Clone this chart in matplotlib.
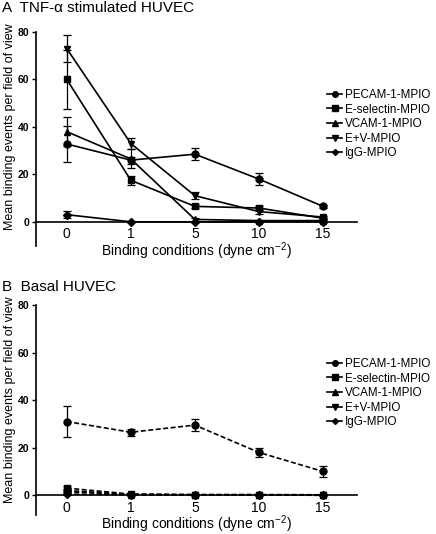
import numpy as np
import matplotlib
matplotlib.use('Agg')
import matplotlib.pyplot as plt
from matplotlib.lines import Line2D

plt.rcParams['font.family'] = ['Liberation Sans', 'DejaVu Sans']
plt.rcParams['mathtext.fontset'] = 'custom'
plt.rcParams['mathtext.rm'] = 'Liberation Sans'
plt.rcParams['mathtext.default'] = 'regular'

conditions = ['0', '1', '5', '10', '15']
series = ['PECAM-1-MPIO', 'E-selectin-MPIO', 'VCAM-1-MPIO', 'E+V-MPIO', 'IgG-MPIO']
markers = ['o', 's', '^', 'v', 'D']

# TNF-alpha stimulated HUVEC
tnf_pecam = [32.8, 26.0, 28.5, 18.0, 6.5]
tnf_pecam_err = [7.5, 1.5, 2.5, 2.5, 0.5]
tnf_esel = [60.0, 17.5, 6.5, 5.8, 1.5]
tnf_esel_err = [12.5, 2.0, 0.8, 1.0, 0.3]
tnf_vcam = [38.0, 26.5, 1.0, 0.5, 0.5]
tnf_vcam_err = [6.0, 4.0, 0.5, 0.3, 0.2]
tnf_ev = [73.0, 33.0, 11.0, 4.3, 2.0]
tnf_ev_err = [5.7, 2.5, 1.5, 1.0, 0.4]
tnf_igg = [3.0, 0.0, 0.0, 0.0, 0.0]
tnf_igg_err = [1.5, 0.2, 0.1, 0.1, 0.1]

# Basal HUVEC
bas_pecam = [31.0, 26.5, 29.5, 18.0, 10.0]
bas_pecam_err = [6.5, 1.5, 2.5, 2.0, 2.5]
bas_esel = [3.0, 0.5, 0.3, 0.3, 0.2]
bas_esel_err = [0.8, 0.2, 0.1, 0.1, 0.1]
bas_vcam = [2.0, 0.3, 0.2, 0.2, 0.0]
bas_vcam_err = [0.5, 0.1, 0.1, 0.1, 0.0]
bas_ev = [1.5, 0.3, 0.2, 0.1, 0.1]
bas_ev_err = [0.4, 0.1, 0.1, 0.1, 0.0]
bas_igg = [0.5, 0.2, 0.1, 0.1, 0.0]
bas_igg_err = [0.2, 0.1, 0.0, 0.0, 0.0]

tnf = [(tnf_pecam, tnf_pecam_err), (tnf_esel, tnf_esel_err), (tnf_vcam, tnf_vcam_err),
       (tnf_ev, tnf_ev_err), (tnf_igg, tnf_igg_err)]
bas = [(bas_pecam, bas_pecam_err), (bas_esel, bas_esel_err), (bas_vcam, bas_vcam_err),
       (bas_ev, bas_ev_err), (bas_igg, bas_igg_err)]

fig = plt.figure(figsize=(4.36, 5.34), dpi=100)
W, H = 436, 534


def panel(rect_px, data, ls, ymin, title, title_y, legend_top):
    left, top, right, bottom = rect_px
    ax = fig.add_axes([left / W, 1 - bottom / H, (right - left) / W, (bottom - top) / H])
    x = np.arange(len(conditions))
    dashes = (3, 1.5) if ls == '--' else (None, None)
    handles = []
    for (vals, errs), m, name in zip(data, markers, series):
        ms = 4 if m == 'D' else 5
        ax.errorbar(x, vals, yerr=errs, color='black', linestyle=ls, linewidth=1.2,
                    marker=m, markersize=ms, capsize=3, elinewidth=0.9, capthick=0.9,
                    dashes=dashes)
        handles.append(Line2D([], [], color='black', linestyle='-', linewidth=1.2,
                              marker=m, markersize=ms - 1, label=name))
    ax.set_xlim(-0.48, 4.53)
    ax.set_ylim(ymin, 80)
    ax.spines['top'].set_visible(False)
    ax.spines['right'].set_visible(False)
    ax.spines['bottom'].set_position(('data', 0))
    ax.spines['bottom'].set_linewidth(1.2)
    ax.spines['left'].set_linewidth(1.2)
    ax.set_xticks(x)
    ax.set_xticklabels(conditions, fontsize=10)
    ax.tick_params(axis='x', length=0, pad=4)
    ax.set_yticks([0, 20, 40, 60, 80])
    ax.set_yticklabels(['0', '20', '40', '60', '80'], fontsize=7.5, fontweight='bold')
    ax.tick_params(axis='y', length=3, width=1, direction='out', pad=2)
    ax.set_xlabel('Binding conditions (dyne cm$^{-2}$)', fontsize=10, labelpad=-1)
    ax.set_ylabel('Mean binding events per field of view', fontsize=9)
    ax.yaxis.set_label_coords(-0.062, (0 - ymin + 40) / (80 - ymin))
    fig.text(2 / W, 1 - title_y / H, title, fontsize=11, va='center', ha='left')
    ax.legend(handles=handles, loc='upper left', bbox_to_anchor=(327 / W, 1 - legend_top / H),
              bbox_transform=fig.transFigure, frameon=False, fontsize=8.4,
              handlelength=1.3, handletextpad=0.25, labelspacing=0.22,
              borderaxespad=0, borderpad=0)
    return ax


panel((36, 32, 357, 246), tnf, '-', -10.2, 'A  TNF-\u03b1 stimulated HUVEC', 8, 89)
panel((36, 305, 357, 515), bas, '--', -8.3, 'B  Basal HUVEC', 287, 358)

fig.savefig('out.png', dpi=100)
